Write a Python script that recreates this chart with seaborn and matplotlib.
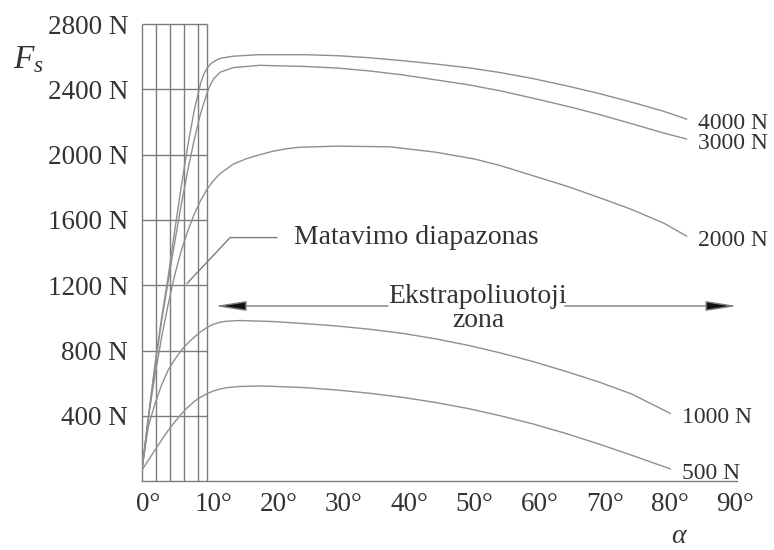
import numpy as np
import pandas as pd
import matplotlib
matplotlib.use("Agg")
import matplotlib.pyplot as plt
import matplotlib.transforms as mtransforms
import seaborn as sns

# ---------------- data ----------------
loads = ["4000 N", "3000 N", "2000 N", "1000 N", "500 N"]

alpha_4000 = [0, 1, 2, 3, 4, 5, 6, 7, 8, 9, 9.5, 10, 10.5, 11, 12, 14, 18, 25, 30, 35, 40, 45, 50, 55, 60, 65,
              70, 75, 80, 83.5]
fs_4000 = [70, 400, 720, 1000, 1250, 1530, 1800, 2050, 2270, 2440, 2495, 2530, 2555, 2570, 2590, 2603, 2612,
           2612, 2606, 2593, 2575, 2555, 2532, 2502, 2465, 2422, 2375, 2322, 2265, 2217]

alpha_3000 = [0, 1, 2, 3, 4, 5, 6, 7, 8, 9, 10, 10.5, 11, 12, 14, 18, 25, 30, 35, 40, 45, 50, 55, 60, 65, 70,
              75, 80, 83.5]
fs_3000 = [70, 390, 700, 980, 1220, 1460, 1690, 1900, 2090, 2255, 2380, 2430, 2465, 2505, 2533, 2547, 2540, 2530,
           2512, 2488, 2458, 2428, 2390, 2345, 2298, 2247, 2190, 2132, 2095]

alpha_2000 = [0, 1, 2, 3, 4, 5, 6, 7, 8, 9, 10, 11, 12, 14, 16, 18, 20, 22, 24, 30, 38, 45, 51, 55, 60, 65, 70,
              75, 80, 83.5]
fs_2000 = [70, 400, 650, 880, 1080, 1260, 1410, 1530, 1635, 1720, 1790, 1843, 1885, 1942, 1975, 1999, 2020, 2035,
           2045, 2052, 2048, 2015, 1973, 1932, 1870, 1808, 1738, 1665, 1580, 1500]

alpha_1000 = [0, 0.5, 1, 2, 3, 4, 5, 6, 7, 8, 9, 10, 11, 12, 13, 15, 20, 25, 30, 35, 40, 45, 50, 55, 60, 65, 70,
              75, 81]
fs_1000 = [70, 211, 340, 476, 590, 679, 745, 800, 845, 882, 915, 943, 962, 974, 980, 984, 978, 965, 950, 930,
           905, 872, 832, 785, 732, 672, 608, 535, 415]

alpha_500 = [0, 1, 2, 3, 4, 5, 6, 7, 8, 9, 10, 11, 12, 13, 15, 18, 20, 25, 30, 35, 40, 45, 50, 55, 60, 65, 70,
             75, 81]
fs_500 = [68, 130, 191, 252, 310, 362, 410, 452, 488, 515, 537, 553, 565, 573, 580, 583, 581, 573, 558, 538, 513,
          482, 445, 400, 350, 292, 228, 160, 75]

x_ticks = [0, 10, 20, 30, 40, 50, 60, 70, 80, 90]
x_tick_labels = ["0°", "10°", "20°", "30°", "40°", "50°", "60°", "70°", "80°", "90°"]
y_ticks = [400, 800, 1200, 1600, 2000, 2400, 2800]
y_tick_labels = ["400 N", "800 N", "1200 N", "1600 N", "2000 N", "2400 N", "2800 N"]

# measuring range grid (0..10 deg)
grid_x = [0, 2.2, 4.3, 6.4, 8.6, 10]
grid_y = [400, 800, 1200, 1600, 2000, 2400, 2800]

# leader line for "Matavimo diapazonas"
leader_x = [6.9, 13.5, 20.7]
leader_y = [1211, 1492, 1492]

range_label = "Matavimo diapazonas"
extrap_label = "Ekstrapoliuotoji\nzona"

# ---------------- styling ----------------
sns.set_style("white")
plt.rcParams["font.family"] = ["Liberation Serif", "DejaVu Serif"]
plt.rcParams["mathtext.fontset"] = "custom"
plt.rcParams["mathtext.it"] = "Liberation Serif:italic"
plt.rcParams["mathtext.rm"] = "Liberation Serif"

CURVE = "#8f8f8f"
GRID = "#7c7c7c"
TEXT = "#333333"

fig = plt.figure(figsize=(7.74, 5.5), dpi=100)
ax = fig.add_axes([142 / 774, 1 - 481.2 / 550, (737 - 142) / 774, (481.2 - 24) / 550])

alphas = [alpha_4000, alpha_3000, alpha_2000, alpha_1000, alpha_500]
forces = [fs_4000, fs_3000, fs_2000, fs_1000, fs_500]
frames = [pd.DataFrame({"alpha": a, "Fs": f, "load": n}) for n, a, f in zip(loads, alphas, forces)]
df = pd.concat(frames, ignore_index=True)

sns.lineplot(data=df, x="alpha", y="Fs", hue="load", palette={n: CURVE for n in loads},
             estimator=None, sort=False, legend=False, linewidth=1.0, ax=ax)

# grid box of the measuring range
ax.vlines(grid_x, 0, grid_y[-1], colors=GRID, linewidth=1.0, clip_on=False, zorder=1)
ax.hlines(grid_y, grid_x[0], grid_x[-1], colors=GRID, linewidth=1.0, clip_on=False, zorder=1)

ax.set_xlim(0, 91.2)
ax.set_ylim(0, 2800)
ax.set_xlabel("")
ax.set_ylabel("")

for s in ["top", "right", "left"]:
    ax.spines[s].set_visible(False)
ax.spines["bottom"].set_color(GRID)
ax.spines["bottom"].set_linewidth(1.0)

ax.set_xticks(x_ticks)
ax.set_xticklabels(x_tick_labels, fontsize=19.5, color=TEXT)
ax.set_yticks(y_ticks)
ax.set_yticklabels(y_tick_labels, fontsize=19.5, color=TEXT)
ax.tick_params(axis="x", direction="out", length=5, width=1.0, color=GRID, pad=3)
ax.tick_params(axis="y", length=0, pad=10)
shift = mtransforms.ScaledTranslation(6 / 100, 0, fig.dpi_scale_trans)
for lbl in ax.get_xticklabels():
    lbl.set_transform(lbl.get_transform() + shift)

# end-of-curve labels
for n, a, f in zip(loads, alphas, forces):
    ax.annotate(n, xy=(a[-1], f[-1]), xytext=(8, -3), textcoords="offset points",
                ha="left", va="center", fontsize=17, color=TEXT, annotation_clip=False)

# leader line & its text
ax.plot(leader_x, leader_y, color=GRID, linewidth=1.0)
ax.annotate(range_label, xy=(leader_x[-1], leader_y[-1]), xytext=(12, 0), textcoords="offset points",
            ha="left", va="center", fontsize=20, color=TEXT)

# extrapolation zone arrows + text
ax.text(51.5, 1055, extrap_label, ha="center", va="center", fontsize=20, color=TEXT,
        linespacing=0.95)
arrow_style = "-|>,head_length=19,head_width=3"
ax.annotate("", xy=(11.2, 1073), xytext=(37.7, 1073),
            arrowprops=dict(arrowstyle=arrow_style, mutation_scale=1, fc="#111111", ec=GRID,
                            lw=1.0, shrinkA=0, shrinkB=0), annotation_clip=False)
ax.annotate("", xy=(91.2, 1073), xytext=(64.8, 1073),
            arrowprops=dict(arrowstyle=arrow_style, mutation_scale=1, fc="#111111", ec=GRID,
                            lw=1.0, shrinkA=0, shrinkB=0), annotation_clip=False)

# axis symbols
fig.text(13 / 774, 1 - 68 / 550, r"$F_s$", fontsize=24, color=TEXT, ha="left", va="baseline")
fig.text(678 / 774, 1 - 549 / 550, "α", fontsize=20, fontstyle="italic", color=TEXT,
         ha="center", va="bottom")

fig.savefig("out.png", dpi=100)
